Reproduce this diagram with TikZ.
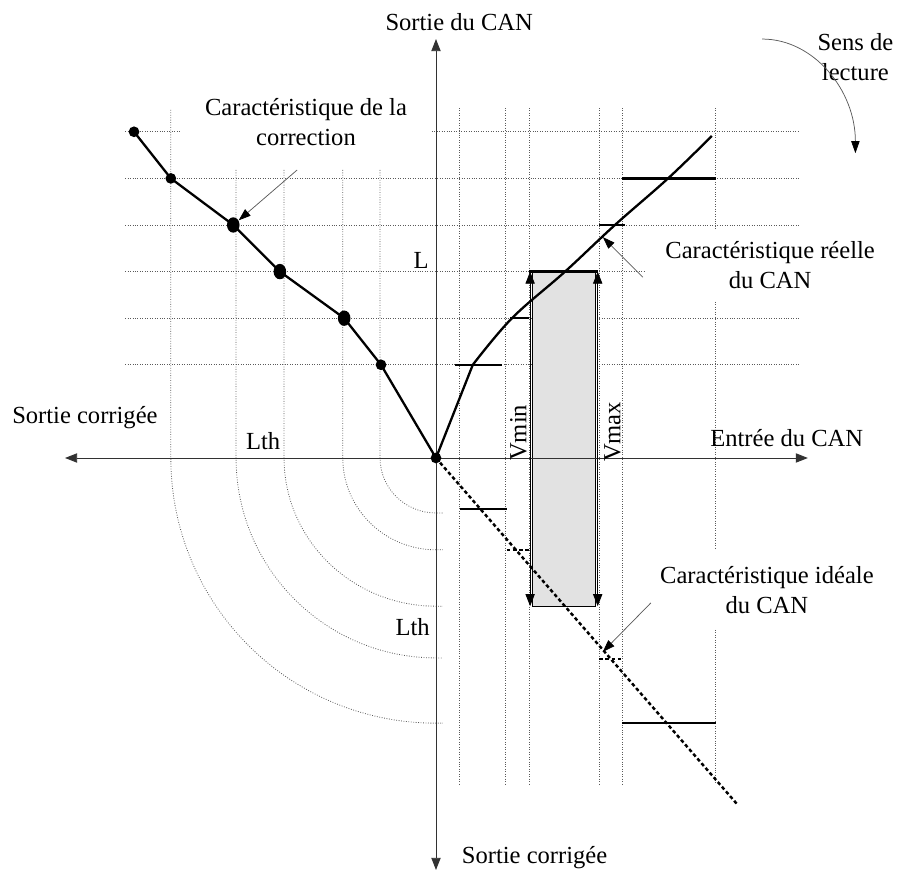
\documentclass[tikz,border=0pt]{standalone}
\usepackage{fontspec}
\setmainfont{Liberation Serif}
\usepackage{tikz}
\usetikzlibrary{arrows.meta, positioning, calc, shapes.geometric}
\definecolor{cGrid}{RGB}{90,90,90}
\definecolor{cAxis}{RGB}{50,50,50}
\definecolor{cShade}{RGB}{226,226,226}
\tikzset{
	axe/.style      ={{Triangle[length=2.6mm, width=2mm]}-{Triangle[length=2.6mm, width=2mm]}, line width=0.55pt, draw=cAxis},
	grille/.style   ={densely dotted, draw=cGrid, line width=0.5pt},
	palier/.style   ={line width=1.5pt},
	paliertir/.style={line width=1.5pt, dash pattern=on 2.2pt off 1.6pt},
	courbe/.style   ={line width=1.4pt, line join=round},
	pt/.style       ={circle, fill=black, inner sep=0pt, minimum size=2.3mm},
	gpt/.style      ={ellipse, fill=black, inner sep=0pt, minimum width=2.7mm, minimum height=3.3mm},
	lbl/.style      ={align=center},
	% arrows pointing at the curves
	renvoi/.style   ={-{Triangle[length=2.6mm, width=1.8mm, color=black]}, line width=0.45pt, draw=cGrid},
	plage/.style    ={{Triangle[length=2.6mm, width=2mm]}-{Triangle[length=2.6mm, width=2mm]}, line width=0.55pt},
}

\begin{document}
\begin{tikzpicture}[font=\fontsize{15}{18.3}\selectfont, every node/.append style={inner sep=0pt}]
	\useasboundingbox (-9.356,-8.884) rectangle (9.914,9.828);
	\foreach \v in {2,3,5,6} \draw[grille] (-6.67,\v) -- (7.81,\v);
	\draw[grille] (-6.67,4) -- (4.48,4);
	\draw[grille] (-6.67,7) -- (-5.49,7) (-0.09,7) -- (7.81,7);
	\foreach \u in {0.5,1.5,2,3.5,4} \draw[grille] (\u,7.51) -- (\u,-7);
	\draw[grille] (6,7.51) -- (6,4.89) (6,3.35) -- (6,-1.97) (6,-3.69) -- (6,-7);
	\foreach \r/\s/\t in {5.69/5.69/7.47, 4.29/4.29/6.18, 3.26/3.18/6.18, 2/1.97/6.18, 1.2/1.18/6.18}
		\draw[grille] (-\r,\t) -- (-\r,0) arc[start angle=180, end angle=270, x radius=\r, y radius=\s] -- ++(0.15,0);

	\draw[fill=cShade, line width=0.45pt] (2.07,-3.18) rectangle (3.42,4);

	\coordinate (O) at (0,0);
	\coordinate (xg) at (-7.96,0); \coordinate (xd) at (7.98,0);
	\coordinate (yb) at (0,-8.84); \coordinate (yh) at (0,8.99);
	\draw[axe] (xg) -- (xd);
	\draw[axe] (yb) -- (yh);

	\coordinate (vminB) at (2.02,-3.18); \coordinate (vminH) at (2.02,4);
	\coordinate (vmaxB) at (3.47,-3.18); \coordinate (vmaxH) at (3.47,4);
	\draw[plage] (vminB) -- (vminH);
	\draw[plage] (vmaxB) -- (vmaxH);

	\draw[palier] (0.41,2) -- (1.42,2) (1.59,3) -- (2,3) (2,4) -- (3.48,4) (3.5,5) -- (4.06,5) (4,6) -- (6,6);
	\draw[palier] (0.52,-1.09) -- (1.52,-1.09) (4,-5.69) -- (6,-5.69);
	\draw[paliertir] (1.52,-1.97) -- (2.02,-1.97) (3.5,-4.31) -- (4,-4.31);
	\draw[paliertir] (O) -- (6.48,-7.45);
	\draw[courbe] (O) -- (0.79,2) -- plot[smooth, tension=0.6] coordinates {(0.79,2) (1.63,3) (2.77,4) (3.84,5) (4.98,6) (5.92,6.91)};

	\coordinate (c7) at (-6.48,7);
	\coordinate (c6) at (-5.69,6);
	\coordinate (c5) at (-4.35,5);
	\coordinate (c4) at (-3.35,4);
	\coordinate (c3) at (-1.97,3);
	\coordinate (c2) at (-1.18,2);
	\draw[courbe] (c7) -- (c6) -- (c5) -- (c4) -- (c3) -- (c2) -- (O);
	\foreach \c in {c7,c6,c2,O} \node[pt] (d\c) at (\c) {};
	\foreach \c in {c5,c4,c3} \node[gpt] (d\c) at (\c) {};

	\node[anchor=base west] (tCan) at (-1.09,9.18) {Sortie du CAN};
	\node[lbl] (tSens) at (9.0,8.6) {Sens de\\lecture};
	\node[lbl] (tCorr) at (-2.79,7.21) {Caractéristique de la\\correction};
	\node (tL) at (-0.32,4.23) {L};
	\node[anchor=base west] (tSortG) at (-9.1,0.75) {Sortie corrigée};
	\node[anchor=base] (tLth) at (-3.71,0.19) {Lth};
	\node[rotate=90] (tVmin) at (1.77,0.54) {Vmin};
	\node[rotate=90] (tVmax) at (3.79,0.56) {Vmax};
	\node[anchor=base west] (tEnt) at (5.88,0.236) {Entrée du CAN};
	\node[lbl] (tReel) at (7.17,4.14) {Caractéristique réelle\\du CAN};
	\node[lbl] (tIdeal) at (7.1,-2.83) {Caractéristique idéale\\du CAN};
	\node[anchor=base] (tLthB) at (-0.5,-3.8) {Lth};
	\node[anchor=base west] (tSortB) at (0.55,-8.71) {Sortie corrigée};

	\coordinate (aCorr) at (-2.98,6.18);
	\coordinate (aReel) at (4.44,3.88); \coordinate (qReel) at (3.58,4.74);
	\coordinate (aIdeal) at (4.61,-3.11); \coordinate (qIdeal) at (3.58,-4.16);
	\coordinate (sensA) at (7.0,8.99);
	\draw[renvoi] (aCorr) -- (dc5);
	\draw[renvoi] (aReel) -- (qReel);
	\draw[renvoi] (aIdeal) -- (qIdeal);
	\draw[renvoi] (sensA) arc[start angle=90, end angle=0, x radius=2.0, y radius=2.45];
\end{tikzpicture}
\end{document}
